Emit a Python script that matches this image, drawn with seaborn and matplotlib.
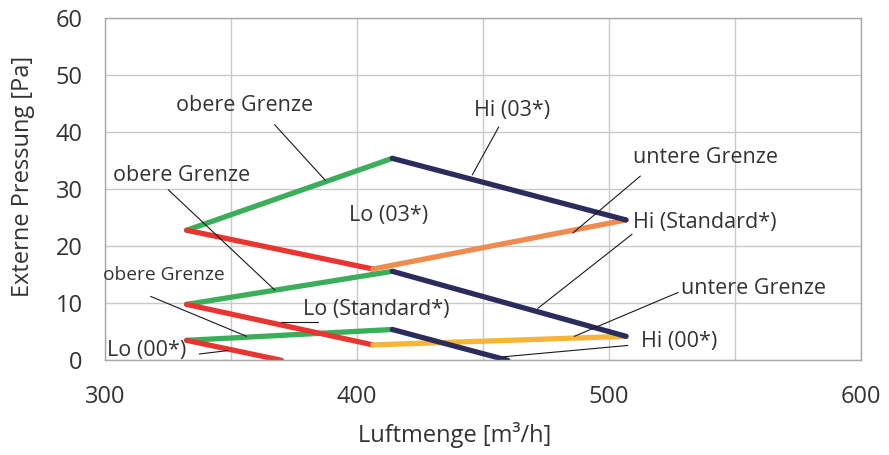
import matplotlib
matplotlib.use("Agg")
import matplotlib.pyplot as plt
from matplotlib.ticker import MultipleLocator
import seaborn as sns
import pandas as pd

sns.set_theme(style="whitegrid")
plt.rcParams['font.family'] = ['Open Sans', 'DejaVu Sans']

# ---- data ----
obere_03_x = [332.5, 414.1]; obere_03_y = [22.8, 35.4]
hi_03_x = [414.1, 506.8];    hi_03_y = [35.4, 24.6]
lo_03_x = [332.5, 406.4];    lo_03_y = [22.8, 16.0]
untere_03_x = [406.4, 506.8]; untere_03_y = [16.0, 24.6]

obere_std_x = [332.5, 414.1]; obere_std_y = [9.8, 15.6]
hi_std_x = [414.1, 506.8];    hi_std_y = [15.6, 4.2]
lo_std_x = [332.5, 406.4];    lo_std_y = [9.8, 2.7]
untere_std_x = [406.4, 506.8]; untere_std_y = [2.7, 4.2]

obere_00_x = [332.5, 414.1]; obere_00_y = [3.5, 5.4]
hi_00_x = [414.1, 459.9];    hi_00_y = [5.4, 0.0]
lo_00_x = [332.5, 370.1];    lo_00_y = [3.5, 0.0]

GREEN = "#3aae5a"; RED = "#e8352f"; NAVY = "#2b2b5c"; ORANGE = "#ef8b4f"; YELLOW = "#f6b535"

segments = [
    ("obere_03", obere_03_x, obere_03_y, GREEN),
    ("obere_std", obere_std_x, obere_std_y, GREEN),
    ("obere_00", obere_00_x, obere_00_y, GREEN),
    ("lo_03", lo_03_x, lo_03_y, RED),
    ("lo_std", lo_std_x, lo_std_y, RED),
    ("lo_00", lo_00_x, lo_00_y, RED),
    ("untere_03", untere_03_x, untere_03_y, ORANGE),
    ("untere_std", untere_std_x, untere_std_y, YELLOW),
    ("hi_03", hi_03_x, hi_03_y, NAVY),
    ("hi_std", hi_std_x, hi_std_y, NAVY),
    ("hi_00", hi_00_x, hi_00_y, NAVY),
]

rows = []
for name, xs, ys, c in segments:
    for xv, yv in zip(xs, ys):
        rows.append({"segment": name, "x": xv, "y": yv})
df = pd.DataFrame(rows)
palette = {name: c for name, _, _, c in segments}

# annotation labels: text, text position, alignment, size, leader start, leader end
labels = [
    ("obere Grenze", (355.6, 44.6), "center", 15.5, (367.4, 41.3), (387.6, 31.5)),
    ("Hi (03*)", (461.7, 43.7), "center", 15.5, (456.3, 40.9), (445.8, 32.5)),
    ("untere Grenze", (538.2, 35.6), "center", 15.5, (512.5, 32.3), (485.7, 22.3)),
    ("Hi (Standard*)", (509.7, 24.1), "left", 15.5, (509.2, 22.1), (471.8, 9.1)),
    ("Lo (03*)", (396.9, 25.3), "left", 15.5, None, None),
    ("obere Grenze", (330.4, 32.4), "center", 15.5, (325.2, 29.9), (367.5, 12.3)),
    ("obere Grenze", (323.5, 14.9), "center", 13.8, (318.2, 11.2), (356.3, 4.2)),
    ("Lo (Standard*)", (407.9, 8.9), "center", 15.5, (370.1, 6.7), (384.6, 6.7)),
    ("Lo (00*)", (316.8, 1.8), "center", 15.5, (337.5, 1.1), (348.7, 1.7)),
    ("untere Grenze", (557.5, 12.6), "center", 15.5, (527.5, 11.9), (486.3, 4.2)),
    ("Hi (00*)", (512.8, 3.3), "left", 15.5, (507.5, 2.6), (457.8, 0.6)),
]

x_ticks = [300, 400, 500, 600]
y_ticks = [0, 10, 20, 30, 40, 50, 60]

TEXT = "#333333"

fig = plt.figure(figsize=(8.89, 4.55), dpi=100)
ax = fig.add_axes([104.7 / 889, 1 - 360.3 / 455, (861 - 104.7) / 889, (360.3 - 18) / 455])

sns.lineplot(data=df, x="x", y="y", hue="segment", units="segment", estimator=None,
             sort=False, palette=palette, legend=False, linewidth=3.8,
             solid_capstyle="round", ax=ax)

ax.set_xlim(300, 600)
ax.set_ylim(0, 60)
ax.set_xticks(x_ticks)
ax.set_yticks(y_ticks)
ax.xaxis.set_minor_locator(MultipleLocator(50))
ax.grid(which="both", color="#c9c9c9", linewidth=1.0)
ax.set_axisbelow(True)
ax.tick_params(axis="both", which="both", length=0, labelsize=17, labelcolor=TEXT)
ax.tick_params(axis="x", pad=18)
ax.tick_params(axis="y", pad=16)
for s in ax.spines.values():
    s.set_color("#a8a8a8")
    s.set_linewidth(1.0)

ax.set_xlabel("Luftmenge [m³/h]", fontsize=17, color=TEXT)
ax.set_ylabel("Externe Pressung [Pa]", fontsize=17, color=TEXT)
ax.xaxis.set_label_coords((455 - 104.7) / (861 - 104.7), -(435 - 360.3) / (360.3 - 18), transform=ax.transAxes)
ax.xaxis.label.set_verticalalignment("center")
ax.yaxis.set_label_coords(-(104.7 - 23) / (861 - 104.7), (360.3 - 176) / (360.3 - 18), transform=ax.transAxes)
ax.yaxis.label.set_verticalalignment("center")

for text, (tx, ty), ha, fs, p0, p1 in labels:
    ax.text(tx, ty, text, ha=ha, va="center", fontsize=fs, color=TEXT, zorder=5)
    if p0 is not None:
        ax.plot([p0[0], p1[0]], [p0[1], p1[1]], color="#1a1a1a", linewidth=0.8, zorder=4)

fig.savefig("out.png", dpi=100)
